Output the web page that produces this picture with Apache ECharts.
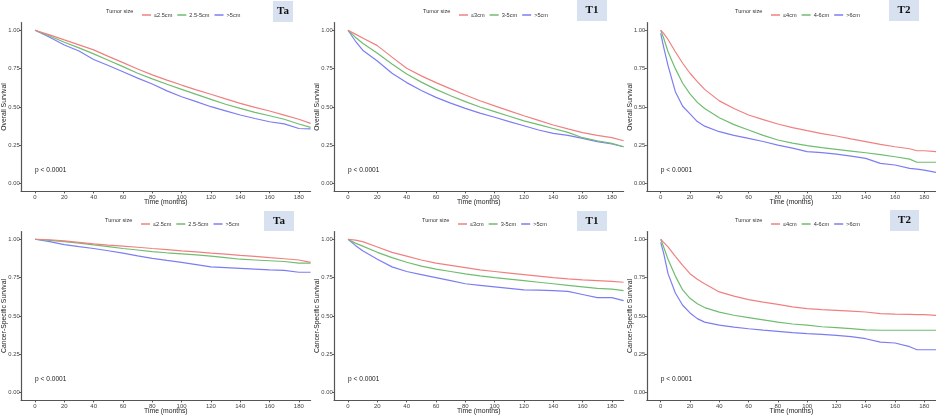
<!DOCTYPE html>
<html>
<head>
<meta charset="utf-8">
<script src="https://cdn.jsdelivr.net/npm/echarts@6.0.0/dist/echarts.min.js"></script>
<style>
html,body{margin:0;padding:0;background:#fff;}
#chart{width:936px;height:417px;}
</style>
</head>
<body>
<div id="chart"></div>
<script>
// panel labels and group names
var panelTags = ['Ta', 'T1', 'T2'];
var groupNames = [
  ['≤2.5cm', '2.5-5cm', '>5cm'],
  ['≤3cm', '3-5cm', '>5cm'],
  ['≤4cm', '4-6cm', '>6cm']
];
var xTicks = [0, 20, 40, 60, 80, 100, 120, 140, 160, 180];
var yTicks = [0, 0.25, 0.5, 0.75, 1];

// Overall survival (top row)
var taOsTime = [0,10,20,30,40,50,60,70,80,90,100,110,120,130,140,150,160,170,180,188];
var taOsSmall = [1.0,0.97,0.937,0.905,0.872,0.83,0.789,0.748,0.709,0.675,0.643,0.612,0.583,0.553,0.524,0.498,0.474,0.447,0.42,0.393];
var taOsMid = [1.0,0.963,0.922,0.885,0.846,0.805,0.763,0.72,0.683,0.648,0.615,0.582,0.55,0.518,0.491,0.465,0.443,0.42,0.389,0.367];
var taOsLarge = [1.0,0.955,0.904,0.865,0.81,0.77,0.73,0.688,0.65,0.605,0.567,0.535,0.502,0.475,0.448,0.425,0.404,0.39,0.36,0.357];

var t1OsTime = [0,5,10,20,30,40,50,60,70,80,90,100,110,120,130,140,150,160,170,180,188];
var t1OsSmall = [1.0,0.975,0.95,0.90,0.825,0.752,0.703,0.659,0.618,0.578,0.541,0.507,0.475,0.443,0.413,0.383,0.357,0.333,0.315,0.30,0.28];
var t1OsMid = [1.0,0.955,0.915,0.85,0.78,0.715,0.662,0.615,0.573,0.535,0.50,0.47,0.44,0.41,0.385,0.36,0.335,0.30,0.28,0.263,0.241];
var t1OsLarge = [1.0,0.93,0.87,0.80,0.72,0.659,0.608,0.563,0.525,0.491,0.46,0.433,0.405,0.378,0.35,0.328,0.315,0.296,0.274,0.259,0.241];

var t2OsTime = [0,2,5,10,15,20,25,30,40,50,60,70,80,90,100,110,120,130,140,150,160,170,175,180,188];
var t2OsSmall = [1.0,0.98,0.94,0.86,0.785,0.72,0.665,0.615,0.54,0.49,0.448,0.418,0.389,0.366,0.346,0.327,0.311,0.292,0.274,0.256,0.241,0.228,0.215,0.215,0.209];
var t2OsMid = [1.0,0.95,0.86,0.75,0.655,0.585,0.53,0.49,0.43,0.385,0.35,0.315,0.285,0.265,0.248,0.235,0.224,0.213,0.202,0.19,0.176,0.16,0.14,0.14,0.14];
var t2OsLarge = [0.98,0.89,0.77,0.60,0.505,0.455,0.405,0.375,0.339,0.315,0.296,0.275,0.252,0.232,0.209,0.203,0.193,0.18,0.165,0.133,0.122,0.10,0.095,0.089,0.074];

// Cancer-specific survival (bottom row)
var taCssTime = [0,10,20,30,40,50,60,70,80,90,100,110,120,130,140,150,160,170,180,188];
var taCssSmall = [1.0,0.997,0.99,0.98,0.97,0.962,0.955,0.948,0.94,0.933,0.925,0.918,0.91,0.903,0.895,0.888,0.88,0.873,0.865,0.85];
var taCssMid = [1.0,0.993,0.985,0.975,0.963,0.952,0.94,0.93,0.92,0.912,0.905,0.898,0.89,0.88,0.87,0.865,0.86,0.855,0.845,0.845];
var taCssLarge = [1.0,0.985,0.965,0.952,0.94,0.925,0.91,0.892,0.875,0.862,0.85,0.835,0.82,0.815,0.81,0.805,0.80,0.797,0.785,0.785];

var t1CssTime = [0,5,10,20,30,40,50,60,70,80,90,100,110,120,130,140,150,160,170,180,188];
var t1CssSmall = [1.0,0.995,0.985,0.95,0.915,0.89,0.865,0.845,0.83,0.815,0.80,0.79,0.78,0.77,0.76,0.75,0.742,0.735,0.73,0.725,0.72];
var t1CssMid = [1.0,0.975,0.955,0.915,0.88,0.85,0.825,0.805,0.79,0.775,0.762,0.75,0.74,0.73,0.72,0.71,0.70,0.69,0.68,0.675,0.665];
var t1CssLarge = [1.0,0.96,0.925,0.87,0.82,0.79,0.77,0.75,0.73,0.71,0.70,0.69,0.68,0.67,0.668,0.665,0.66,0.64,0.62,0.62,0.60];

var t2CssTime = [0,2,5,10,15,20,25,30,40,50,60,70,80,90,100,110,120,130,140,150,160,170,175,180,188];
var t2CssSmall = [1.0,0.98,0.95,0.889,0.83,0.776,0.74,0.71,0.657,0.63,0.607,0.59,0.576,0.56,0.548,0.542,0.537,0.532,0.526,0.515,0.512,0.51,0.509,0.509,0.504];
var t2CssMid = [1.0,0.95,0.87,0.76,0.67,0.615,0.58,0.555,0.525,0.505,0.49,0.475,0.46,0.448,0.44,0.43,0.424,0.418,0.41,0.407,0.407,0.407,0.407,0.407,0.407];
var t2CssLarge = [0.98,0.91,0.776,0.65,0.57,0.52,0.483,0.46,0.44,0.428,0.417,0.408,0.40,0.392,0.385,0.38,0.374,0.365,0.352,0.33,0.324,0.30,0.28,0.28,0.28];

var lineColors = ['#f08080', '#70bd70', '#7d7df2'];

var panels = [
  {row: 0, col: 0, time: taOsTime, sets: [taOsSmall, taOsMid, taOsLarge]},
  {row: 0, col: 1, time: t1OsTime, sets: [t1OsSmall, t1OsMid, t1OsLarge]},
  {row: 0, col: 2, time: t2OsTime, sets: [t2OsSmall, t2OsMid, t2OsLarge]},
  {row: 1, col: 0, time: taCssTime, sets: [taCssSmall, taCssMid, taCssLarge]},
  {row: 1, col: 1, time: t1CssTime, sets: [t1CssSmall, t1CssMid, t1CssLarge]},
  {row: 1, col: 2, time: t2CssTime, sets: [t2CssSmall, t2CssMid, t2CssLarge]}
];
var yTitles = ['Overall Survival', 'Cancer-Specific Survival'];

// layout in px
var gridLeft = [21.1, 334.1, 646.8];
var gridWidth = 289.5;
var gridTop = [22.6, 231.6];
var gridHeight = 168.8;
var legendLeft = [[106, 423, 735], [105, 422, 735]];
var legendTop = [11, 220];
var tagBox = [[273, 1, 20, 21], [577, 0, 30, 21], [889, 0, 30, 21],
              [264, 211, 30, 20], [577, 211, 30, 20], [890, 210, 29, 21]];

function $each(arr, fn) { for (var i = 0; i < arr.length; i++) fn(arr[i], i); }

var grid = [], xAxis = [], yAxis = [], series = [], legend = [], graphic = [];

$each(panels, function (p, i) {
  grid.push({left: gridLeft[p.col], top: gridTop[p.row], width: gridWidth, height: gridHeight});
  xAxis.push({
    type: 'value', gridIndex: i, min: -9.5, max: 188,
    name: 'Time (months)', nameLocation: 'middle', nameGap: 7.5, nameMoveOverlap: false,
    nameTextStyle: {fontSize: 6.8, color: '#222', fontFamily: 'Liberation Sans', verticalAlign: 'top'},
    splitLine: {show: false},
    axisLine: {onZero: false, lineStyle: {color: '#555', width: 1.2}},
    axisTick: {customValues: xTicks, length: 2, lineStyle: {color: '#555'}},
    axisLabel: {customValues: xTicks, fontSize: 6, color: '#444', margin: 2.5, fontFamily: 'Liberation Sans'}
  });
  yAxis.push({
    type: 'value', gridIndex: i, min: -0.05, max: 1.05,
    name: yTitles[p.row], nameLocation: 'middle', nameGap: 13, nameMoveOverlap: false,
    nameTextStyle: {fontSize: 6.8, color: '#222', fontFamily: 'Liberation Sans', verticalAlign: 'bottom'},
    splitLine: {show: false},
    axisLine: {show: true, onZero: false, lineStyle: {color: '#555', width: 1.2}},
    axisTick: {show: true, customValues: yTicks, length: 2, lineStyle: {color: '#555'}},
    axisLabel: {customValues: yTicks, fontSize: 5.8, color: '#444', margin: 1.5, fontFamily: 'Liberation Sans',
      formatter: function (v) { return v.toFixed(2); }}
  });
  // one legend per panel, so keep names unique per panel (zero-width suffix)
  var names = [];
  $each(groupNames[p.col], function (n) { names.push(n + new Array(i + 1).join('\u200b')); });
  $each(p.sets, function (vals, k) {
    var pts = [];
    for (var j = 0; j < vals.length; j++) pts.push([p.time[j], vals[j]]);
    series.push({
      name: names[k], type: 'line', xAxisIndex: i, yAxisIndex: i,
      symbol: 'none', silent: true, z: 3 - k,
      lineStyle: {color: lineColors[k], width: 1.2},
      itemStyle: {color: lineColors[k]},
      data: pts
    });
  });
  var lx = legendLeft[p.row][p.col], ly = legendTop[p.row];
  var legendData = [];
  $each(names, function (n, k) {
    legendData.push({name: n, itemStyle: {color: lineColors[k]}, textStyle: {color: '#333'}});
  });
  legend.push({
    data: legendData, left: lx + 31, top: ly - 4, icon: 'rect',
    itemWidth: 9, itemHeight: 1.5, itemGap: 5, selectedMode: false,
    textStyle: {fontSize: 5.6, color: '#333', fontFamily: 'Liberation Sans', padding: [0, 0, 0, -2]}
  });
  graphic.push({type: 'text', x: lx, y: ly,
    style: {text: 'Tumor size', fontSize: 5.6, fill: '#333', fontFamily: 'Liberation Sans', verticalAlign: 'middle'}});
  var b = tagBox[i];
  graphic.push({type: 'rect', shape: {x: b[0], y: b[1], width: b[2], height: b[3]},
    style: {fill: '#d7e1f0'}});
  graphic.push({type: 'text', x: b[0] + b[2] / 2, y: b[1] + b[3] / 2,
    style: {text: panelTags[p.col], fontSize: 11, fontWeight: 'bold', fill: '#111',
      fontFamily: 'Liberation Serif', align: 'center', verticalAlign: 'middle'}});
  graphic.push({type: 'text', x: gridLeft[p.col] + 14, y: gridTop[p.row] + 148,
    style: {text: 'p < 0.0001', fontSize: 6.6, fill: '#222', fontFamily: 'Liberation Sans', verticalAlign: 'middle'}});
});

var myChart = echarts.init(document.getElementById('chart'));
myChart.setOption({
  animation: false,
  backgroundColor: '#fff',
  grid: grid,
  xAxis: xAxis,
  yAxis: yAxis,
  legend: legend,
  graphic: graphic,
  series: series
});
</script>
</body>
</html>
